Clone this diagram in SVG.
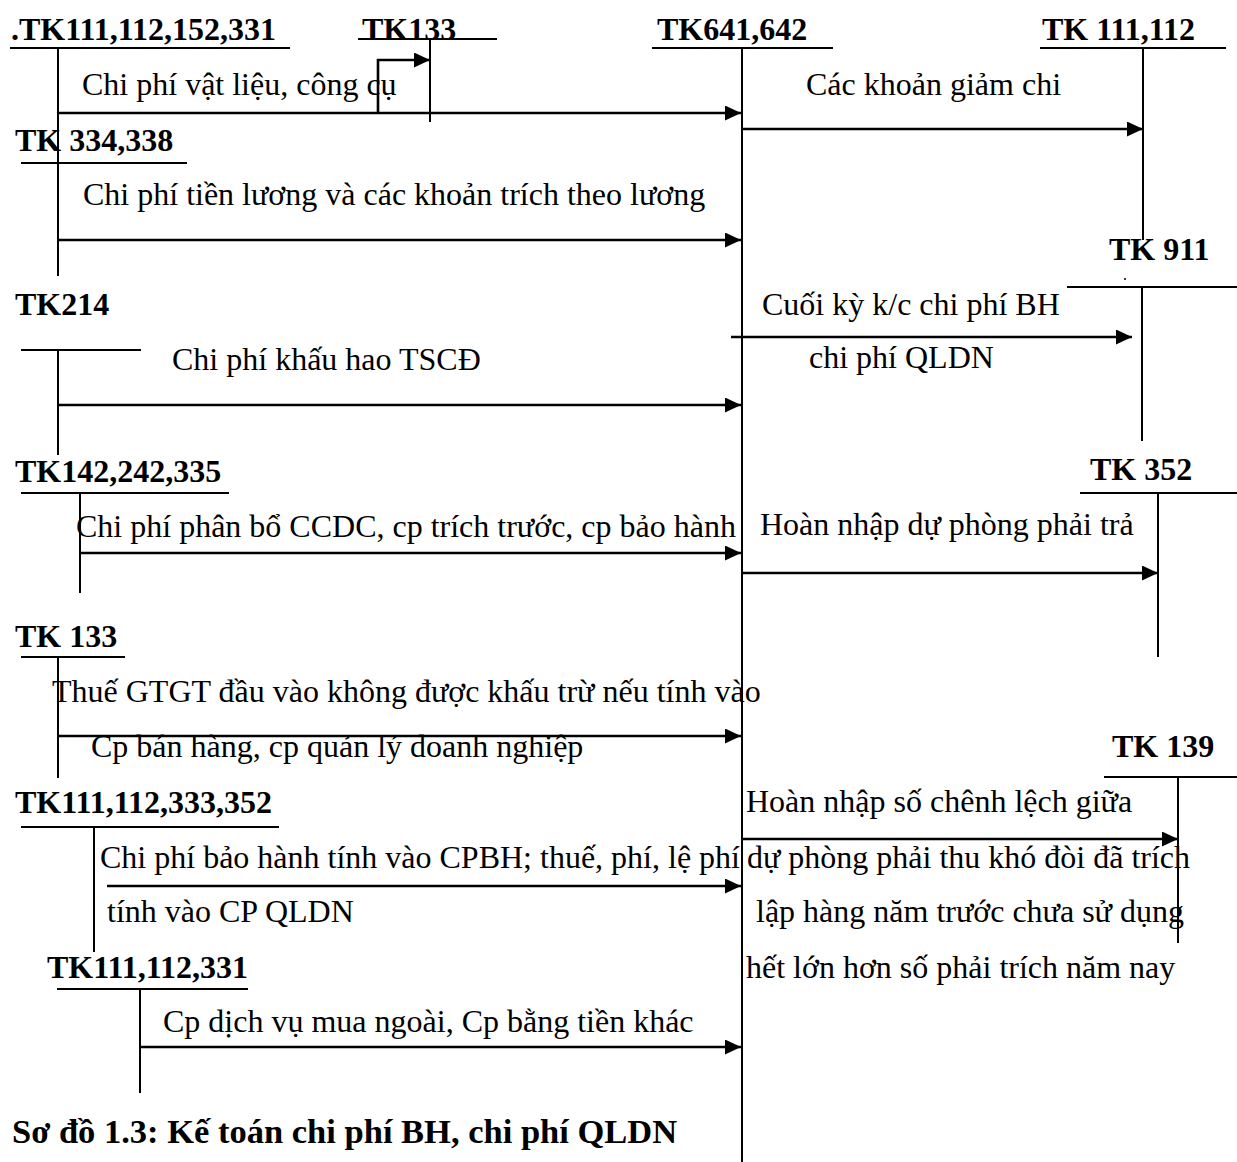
<svg xmlns="http://www.w3.org/2000/svg" width="1237" height="1162" viewBox="0 0 1237 1162">
<style>
text{font-family:"Liberation Serif","Times New Roman",serif;font-size:32px;fill:#000}
.b{font-weight:bold}
.cap{font-weight:bold;font-size:34.5px}
.ul{stroke:#000;stroke-width:1.8;fill:none}
.v{stroke:#000;stroke-width:2;fill:none}
.a{stroke:#000;stroke-width:2.6;fill:none;marker-end:url(#ah)}
</style>
<defs>
<marker id="ah" markerUnits="userSpaceOnUse" markerWidth="17" markerHeight="15" refX="16" refY="7.5" orient="auto">
<path d="M0,0 L16,7.5 L0,15 z" fill="#000"/>
</marker>
</defs>
<rect width="1237" height="1162" fill="#fff"/>

<g id="tk111-112-152-331">
<text class="b" x="11" y="40">.TK111,112,152,331</text>
<line class="ul" x1="10" y1="48" x2="290" y2="48"/>
<line class="v" x1="58" y1="48" x2="58" y2="276"/>
</g>
<g id="tk133-top">
<text class="b" x="362" y="40">TK133</text>
<line class="ul" x1="358" y1="39" x2="497" y2="39"/>
<line class="v" x1="430" y1="39" x2="430" y2="122"/>
</g>
<g id="tk641-642">
<text class="b" x="657" y="40">TK641,642</text>
<line class="ul" x1="652" y1="48" x2="833" y2="48"/>
<line class="v" x1="742" y1="48" x2="742" y2="1162"/>
</g>
<g id="tk111-112-right">
<text class="b" x="1042" y="40">TK 111,112</text>
<line class="ul" x1="1040" y1="48" x2="1226" y2="48"/>
<line class="v" x1="1143" y1="48" x2="1143" y2="240"/>
</g>
<g id="tk334-338">
<text class="b" x="15" y="151">TK 334,338</text>
<line class="ul" x1="21" y1="163" x2="187" y2="163"/>
</g>
<g id="tk911">
<text class="b" x="1109" y="260">TK 911</text>
<circle cx="1125" cy="279" r="1" fill="#000"/>
<line class="ul" x1="1067" y1="287" x2="1237" y2="287"/>
<line class="v" x1="1142" y1="287" x2="1142" y2="441"/>
</g>
<g id="tk214">
<text class="b" x="15" y="315">TK214</text>
<line class="ul" x1="21" y1="350" x2="141" y2="350"/>
<line class="v" x1="58" y1="350" x2="58" y2="455"/>
</g>
<g id="tk142-242-335">
<text class="b" x="15" y="482">TK142,242,335</text>
<line class="ul" x1="21" y1="493" x2="229" y2="493"/>
<line class="v" x1="80" y1="493" x2="80" y2="593"/>
</g>
<g id="tk352">
<text class="b" x="1090" y="480">TK 352</text>
<line class="ul" x1="1080" y1="493" x2="1237" y2="493"/>
<line class="v" x1="1158" y1="493" x2="1158" y2="657"/>
</g>
<g id="tk133">
<text class="b" x="15" y="647">TK 133</text>
<line class="ul" x1="21" y1="657" x2="125" y2="657"/>
<line class="v" x1="58" y1="657" x2="58" y2="778"/>
</g>
<g id="tk139">
<text class="b" x="1112" y="757">TK 139</text>
<line class="ul" x1="1104" y1="777" x2="1237" y2="777"/>
<line class="v" x1="1178" y1="777" x2="1178" y2="943"/>
</g>
<g id="tk111-112-333-352">
<text class="b" x="15" y="813">TK111,112,333,352</text>
<line class="ul" x1="21" y1="827" x2="279" y2="827"/>
<line class="v" x1="94" y1="827" x2="94" y2="952"/>
</g>
<g id="tk111-112-331">
<text class="b" x="47" y="978">TK111,112,331</text>
<line class="ul" x1="57" y1="989" x2="248" y2="989"/>
<line class="v" x1="140" y1="989" x2="140" y2="1093"/>
</g>

<g id="connectors">
<line class="a" x1="58" y1="113" x2="741" y2="113"/>
<polyline class="a" points="378,113 378,60 430,60"/>
<line class="a" x1="742" y1="129" x2="1143" y2="129"/>
<line class="a" x1="58" y1="240" x2="741" y2="240"/>
<line class="a" x1="731" y1="337" x2="1132" y2="337"/>
<line class="a" x1="58" y1="405" x2="741" y2="405"/>
<line class="a" x1="80" y1="553" x2="741" y2="553"/>
<line class="a" x1="742" y1="573" x2="1158" y2="573"/>
<line class="a" x1="58" y1="736" x2="741" y2="736"/>
<line class="a" x1="742" y1="839" x2="1178" y2="839"/>
<line class="a" x1="107" y1="886" x2="741" y2="886"/>
<line class="a" x1="140" y1="1047" x2="741" y2="1047"/>
</g>

<g id="labels">
<text x="82" y="95">Chi phí vật liệu, công cụ</text>
<text x="806" y="95">Các khoản giảm chi</text>
<text x="83" y="205">Chi phí tiền lương và các khoản trích theo lương</text>
<text x="762" y="315">Cuối kỳ k/c chi phí BH</text>
<text x="809" y="368">chi phí QLDN</text>
<text x="172" y="370">Chi phí khấu hao TSCĐ</text>
<text x="76" y="537">Chi phí phân bổ CCDC, cp trích trước, cp bảo hành</text>
<text x="760" y="535">Hoàn nhập dự phòng phải trả</text>
<text x="52" y="702">Thuế GTGT đầu vào không được khấu trừ nếu tính vào</text>
<text x="91" y="757">Cp bán hàng, cp quản lý doanh nghiệp</text>
<text x="746" y="812">Hoàn nhập số chênh lệch giữa</text>
<text x="100" y="868">Chi phí bảo hành tính vào CPBH; thuế, phí, lệ phí</text>
<text x="747" y="868">dự phòng phải thu khó đòi đã trích</text>
<text x="107" y="922">tính vào CP QLDN</text>
<text x="756" y="922">lập hàng năm trước chưa sử dụng</text>
<text x="746" y="978">hết lớn hơn số phải trích năm nay</text>
<text x="163" y="1032">Cp dịch vụ mua ngoài, Cp bằng tiền khác</text>
<text class="cap" x="12" y="1143">Sơ đồ 1.3: Kế toán chi phí BH, chi phí QLDN</text>
</g>
</svg>
